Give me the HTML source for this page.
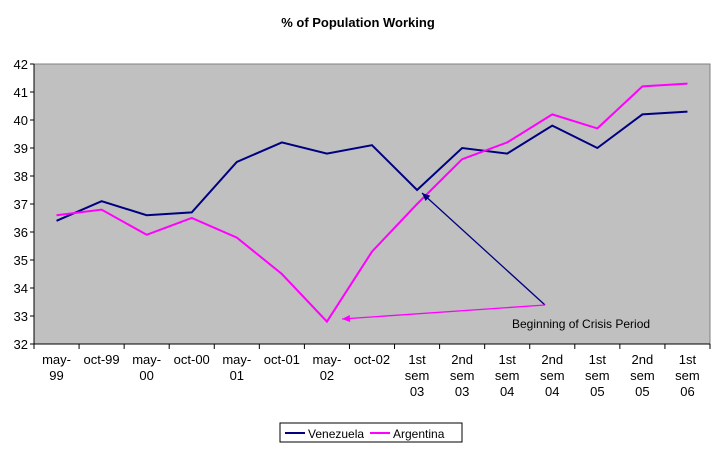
<!DOCTYPE html>
<html><head><meta charset="utf-8"><style>
body{margin:0;background:#fff;font-family:"Liberation Sans",Arial,sans-serif}
svg text{font-family:"Liberation Sans",Arial,sans-serif}
</style></head><body>
<svg id="c" width="717" height="445"></svg>
<script>
const categories=[["may-","99"],["oct-99"],["may-","00"],["oct-00"],["may-","01"],["oct-01"],["may-","02"],["oct-02"],["1st","sem","03"],["2nd","sem","03"],["1st","sem","04"],["2nd","sem","04"],["1st","sem","05"],["2nd","sem","05"],["1st","sem","06"]];
const venezuela=[36.4,37.1,36.6,36.7,38.5,39.2,38.8,39.1,37.5,39.0,38.8,39.8,39.0,40.2,40.3];
const argentina=[36.6,36.8,35.9,36.5,35.8,34.5,32.8,35.3,37.0,38.6,39.2,40.2,39.7,41.2,41.3];
const yTicks=[32,33,34,35,36,37,38,39,40,41,42];
const L=34,R=710,T=64,B=344,NS="http://www.w3.org/2000/svg";
const svg=document.getElementById('c');
const bw=(R-L)/categories.length;
const x=i=>L+bw*(i+0.5);
const y=v=>B-(v-32)/(42-32)*(B-T);
function mk(t,a,p){const e=document.createElementNS(NS,t);for(const k in a)e.setAttribute(k,a[k]);(p||svg).appendChild(e);return e;}
let e;
e=mk('text',{x:358,y:27,'text-anchor':'middle','font-size':13,'font-weight':'bold'});e.textContent='% of Population Working';


e=mk('rect',{x:L,y:T,width:R-L,height:B-T,fill:'#c0c0c0',stroke:'#808080'});


mk('line',{x1:L,y1:T,x2:L,y2:B,stroke:'#000'});
mk('line',{x1:L,y1:B,x2:R,y2:B,stroke:'#000'});
yTicks.forEach(v=>{mk('line',{x1:L-4,y1:y(v),x2:L,y2:y(v),stroke:'#000'});
e=mk('text',{x:L-6,y:y(v)+5,'text-anchor':'end','font-size':13});e.textContent=v;

});
categories.forEach((c,i)=>{const tx=L+bw*i;mk('line',{x1:tx,y1:B,x2:tx,y2:B+5,stroke:'#000'});
c.forEach((s,j)=>{e=mk('text',{x:x(i),y:B+20+j*16,'text-anchor':'middle','font-size':13});e.textContent=s;

});});
mk('line',{x1:R,y1:B,x2:R,y2:B+5,stroke:'#000'});
function series(d,col,name){e=mk('polyline',{points:d.map((v,i)=>x(i)+','+y(v)).join(' '),fill:'none',stroke:col,'stroke-width':2});

}
series(venezuela,'#000080','venezuela-line');
series(argentina,'#ff00ff','argentina-line');
// annotation arrows
const ax=545,ay=305;
function arrow(x2,y2,col,name){e=mk('line',{x1:ax,y1:ay,x2:x2,y2:y2,stroke:col,'stroke-width':1.3});


const a=Math.atan2(y2-ay,x2-ax),l=8,w=3.5;
const bx=x2-l*Math.cos(a),by=y2-l*Math.sin(a);
mk('polygon',{points:`${x2},${y2} ${bx+w*Math.sin(a)},${by-w*Math.cos(a)} ${bx-w*Math.sin(a)},${by+w*Math.cos(a)}`,fill:col});}
arrow(422,193,'#000080','crisis-arrow-venezuela');
arrow(342,319,'#ff00ff','crisis-arrow-argentina');
e=mk('text',{x:512,y:328,'font-size':12});e.textContent='Beginning of Crisis Period';


// legend
const g=mk('g',{});


mk('rect',{x:280,y:423,width:182,height:19,fill:'#fff',stroke:'#000'},g);
mk('line',{x1:285,y1:433,x2:305,y2:433,stroke:'#000080','stroke-width':2},g);
e=mk('text',{x:308,y:438,'font-size':12},g);e.textContent='Venezuela';


mk('line',{x1:370,y1:433,x2:390,y2:433,stroke:'#ff00ff','stroke-width':2},g);
e=mk('text',{x:393,y:438,'font-size':12},g);e.textContent='Argentina';


</script>
</body></html>
